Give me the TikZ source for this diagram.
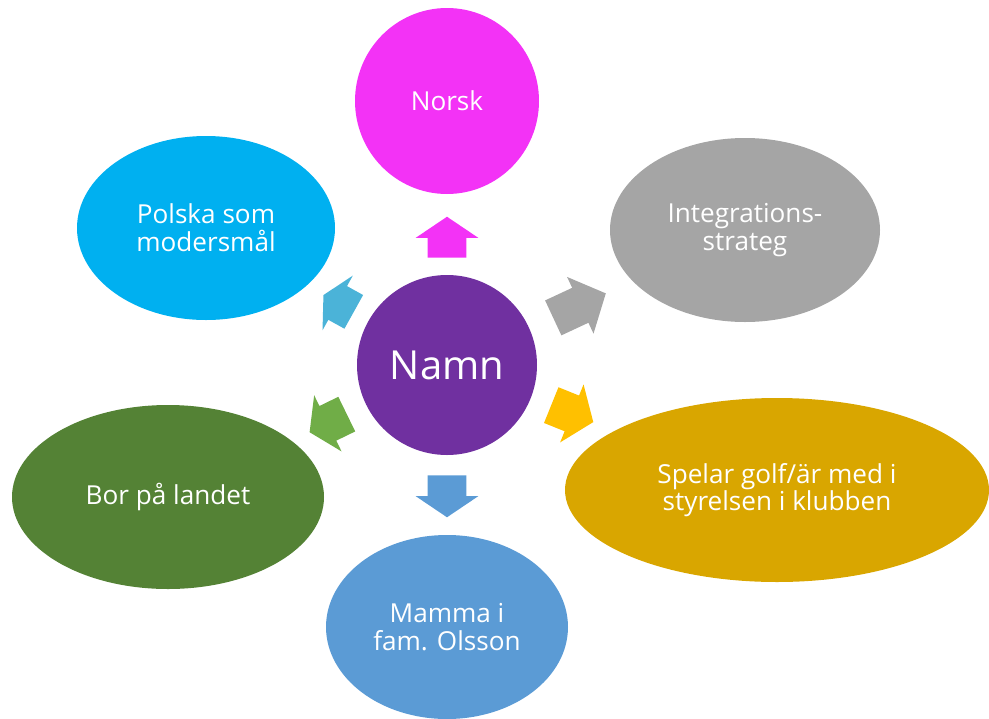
\documentclass[tikz,border=0pt]{standalone}
\usepackage{fontspec}
\setmainfont{Open Sans}
\usetikzlibrary{shapes.geometric, shapes.arrows}
\usetikzlibrary{positioning}
\definecolor{namnlila}{HTML}{7030A0}
\definecolor{norskrosa}{HTML}{F332F6}
\definecolor{polskabla}{HTML}{00B0F0}
\definecolor{polskapil}{HTML}{4BB3D8}
\definecolor{integgra}{HTML}{A5A5A5}
\definecolor{golfgul}{HTML}{D9A600}
\definecolor{golfpil}{HTML}{FFC000}
\definecolor{borgron}{HTML}{548235}
\definecolor{borpil}{HTML}{70AD47}
\definecolor{mammabla}{HTML}{5B9BD5}
\tikzstyle{pil}=[single arrow, draw=none, inner xsep=0pt, inner ysep=14.25pt,
					single arrow head extend=9pt, anchor=tail]

\begin{document}
\begin{tikzpicture}[x=0.75pt, y=-0.75pt,
 bubbla/.style={ellipse, draw=none, text=white, inner sep=0pt, minimum height=138pt, align=center, font=\fontsize{19.6}{20.8}\selectfont}
 ]
 \useasboundingbox (0,0) rectangle (989,718);

 %Nodes
 \node[bubbla, fill=namnlila, minimum width=135pt, minimum height=135pt, font=\fontsize{30}{36}\selectfont] (namn_node) at (447,365) {Namn};
 \node[bubbla, fill=norskrosa, minimum width=138pt, minimum height=139.5pt] (norsk_node) at (447,101) {Norsk};
 \node[bubbla, fill=polskabla, minimum width=193.5pt] (polska_node) at (206,228) {Polska som\\modersmål};
 \node[bubbla, fill=integgra, minimum width=202.5pt] (integ_node) at (745,230) {Integrations-\\strateg};
 \node[bubbla, fill=golfgul, minimum width=318pt] (golf_node) at (777,490) {Spelar golf/är med i\\styrelsen i klubben};
 \node[bubbla, fill=borgron, minimum width=234pt] (bor_node) at (168,497) {Bor på landet};
 \node[bubbla, fill=mammabla, minimum width=181.5pt] (mamma_node) at (447,627) {Mamma i\\fam. Olsson};

 %Arrows
 \node[pil, fill=norskrosa, minimum height=30.75pt, single arrow tip angle=112, rotate=90] (pil_norsk) at (447,258) {};
 \node[pil, fill=mammabla, minimum height=31.5pt, single arrow tip angle=112, rotate=-90] (pil_mamma) at (447,475) {};
 \node[pil, fill=integgra, minimum height=43.5pt, single arrow tip angle=96, rotate=25] (pil_integ) at (553,318) {};
 \node[pil, fill=golfpil, minimum height=34pt, single arrow tip angle=107, rotate=-22] (pil_golf) at (551,405) {};
 \node[pil, fill=polskapil, minimum height=26pt, single arrow tip angle=125, rotate=151] (pil_polska) at (354,312) {};
 \node[pil, fill=borpil, minimum height=31pt, single arrow tip angle=114, rotate=206] (pil_bor) at (347,414) {};
\end{tikzpicture}
\end{document}
